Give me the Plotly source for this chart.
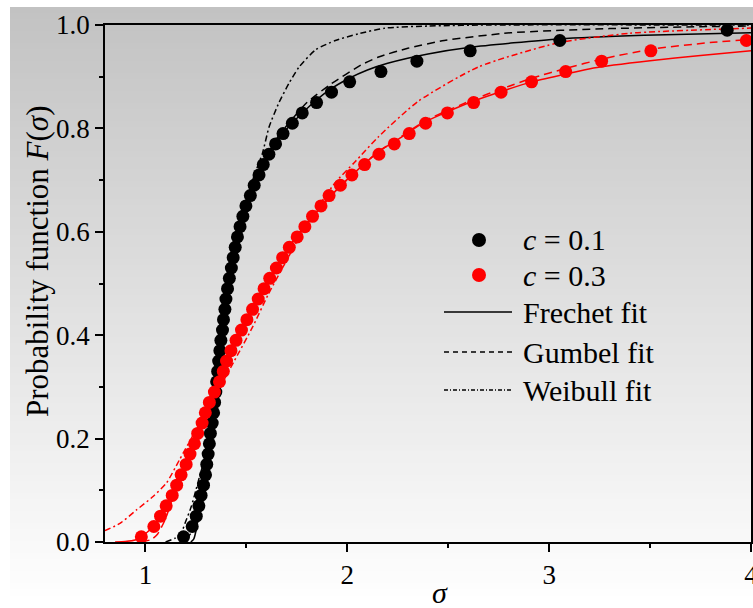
import plotly.graph_objects as go

# ---------------- data ----------------
cdf_levels = [0.01, 0.03, 0.05, 0.07, 0.09, 0.11, 0.13, 0.15, 0.17, 0.19,
              0.21, 0.23, 0.25, 0.27, 0.29, 0.31, 0.33, 0.35, 0.37, 0.39,
              0.41, 0.43, 0.45, 0.47, 0.49, 0.51, 0.53, 0.55, 0.57, 0.59,
              0.61, 0.63, 0.65, 0.67, 0.69, 0.71, 0.73, 0.75, 0.77, 0.79,
              0.81, 0.83, 0.85, 0.87, 0.89, 0.91, 0.93, 0.95, 0.97, 0.99]

c01_sigma = [1.189, 1.232, 1.252, 1.265, 1.276, 1.288, 1.298, 1.304, 1.311, 1.317,
             1.322, 1.331, 1.338, 1.343, 1.349, 1.353, 1.358, 1.363, 1.369, 1.374,
             1.382, 1.387, 1.394, 1.399, 1.407, 1.416, 1.426, 1.435, 1.445, 1.456,
             1.469, 1.483, 1.498, 1.520, 1.539, 1.563, 1.584, 1.612, 1.645, 1.682,
             1.728, 1.777, 1.848, 1.922, 2.012, 2.167, 2.345, 2.609, 3.053, 3.882]

c03_sigma = [0.980, 1.042, 1.075, 1.103, 1.133, 1.155, 1.177, 1.202, 1.221, 1.243,
             1.259, 1.281, 1.297, 1.317, 1.342, 1.367, 1.386, 1.402, 1.424, 1.449,
             1.476, 1.503, 1.531, 1.559, 1.588, 1.616, 1.649, 1.680, 1.713, 1.752,
             1.790, 1.828, 1.870, 1.910, 1.966, 2.023, 2.086, 2.157, 2.233, 2.307,
             2.388, 2.496, 2.626, 2.762, 2.913, 3.082, 3.260, 3.504, 3.977]
c03_F = cdf_levels[:len(c03_sigma)]

# fitted curves (sigma, F)
frechet01_x = [1.225, 1.24, 1.255, 1.27, 1.285, 1.30, 1.32, 1.34, 1.36, 1.38, 1.40, 1.43,
               1.46, 1.50, 1.55, 1.60, 1.65, 1.71, 1.81, 1.91, 2.01, 2.10, 2.20, 2.40,
               2.61, 3.05, 3.47, 4.0]
frechet01_y = [0.0, 0.006, 0.03, 0.07, 0.11, 0.15, 0.21, 0.27, 0.34, 0.40, 0.46, 0.53,
               0.59, 0.65, 0.70, 0.74, 0.775, 0.803, 0.842, 0.874, 0.897, 0.913, 0.926, 0.944,
               0.957, 0.973, 0.980, 0.985]

gumbel01_x = [1.20, 1.23, 1.26, 1.28, 1.30, 1.32, 1.34, 1.36, 1.38, 1.40, 1.43, 1.46,
              1.50, 1.55, 1.60, 1.65, 1.71, 1.80, 1.92, 2.07, 2.155, 2.30, 2.48, 2.81,
              3.30, 3.80, 4.0]
gumbel01_y = [0.003, 0.02, 0.055, 0.10, 0.15, 0.21, 0.27, 0.34, 0.40, 0.46, 0.53, 0.59,
              0.65, 0.70, 0.745, 0.78, 0.81, 0.85, 0.886, 0.923, 0.938, 0.955, 0.970, 0.985,
              0.993, 0.997, 0.998]

weibull01_x = [1.10, 1.15, 1.18, 1.20, 1.227, 1.25, 1.268, 1.30, 1.33, 1.35, 1.37, 1.40,
               1.43, 1.46, 1.50, 1.54, 1.58, 1.613, 1.662, 1.711, 1.76, 1.843, 1.941,
               2.056, 2.188, 2.40, 2.70, 4.0]
weibull01_y = [0.0, 0.008, 0.02, 0.04, 0.068, 0.10, 0.126, 0.17, 0.235, 0.29, 0.35, 0.44,
               0.52, 0.59, 0.66, 0.71, 0.752, 0.803, 0.85, 0.887, 0.918, 0.952, 0.970,
               0.983, 0.994, 0.998, 1.0, 1.0]

frechet03_x = [0.85, 0.90, 0.95, 0.98, 1.04, 1.075, 1.10, 1.13, 1.155, 1.20, 1.26, 1.30,
               1.34, 1.40, 1.45, 1.53, 1.62, 1.71, 1.83, 1.97, 2.155, 2.233, 2.388, 2.626,
               2.913, 3.08, 3.22, 3.50, 3.75, 4.0]
frechet03_y = [0.0, 0.001, 0.004, 0.01, 0.03, 0.05, 0.07, 0.09, 0.11, 0.15, 0.21, 0.25,
               0.29, 0.35, 0.39, 0.45, 0.51, 0.57, 0.63, 0.69, 0.755, 0.774, 0.813, 0.853,
               0.890, 0.905, 0.917, 0.931, 0.941, 0.950]

gumbel03_x = [0.98, 1.03, 1.06, 1.10, 1.13, 1.16, 1.20, 1.26, 1.30, 1.34, 1.40, 1.45,
              1.53, 1.62, 1.71, 1.83, 1.97, 2.155, 2.233, 2.388, 2.626, 2.762, 2.913,
              3.082, 3.26, 3.504, 3.797, 4.0]
gumbel03_y = [0.0, 0.005, 0.015, 0.045, 0.08, 0.11, 0.15, 0.21, 0.25, 0.29, 0.35, 0.39,
              0.45, 0.51, 0.57, 0.63, 0.69, 0.755, 0.775, 0.815, 0.856, 0.876, 0.897,
              0.916, 0.934, 0.953, 0.966, 0.972]

weibull03_x = [0.80, 0.874, 0.956, 1.038, 1.104, 1.169, 1.227, 1.30, 1.37, 1.44, 1.53,
               1.61, 1.70, 1.77, 1.85, 1.94, 2.04, 2.155, 2.35, 2.65, 3.04, 3.40, 4.0]
weibull03_y = [0.022, 0.036, 0.062, 0.088, 0.114, 0.159, 0.200, 0.250, 0.300, 0.350, 0.415,
               0.480, 0.545, 0.595, 0.645, 0.695, 0.736, 0.784, 0.852, 0.919, 0.965, 0.984, 0.994]

x_ticks = [1, 2, 3, 4]
y_ticks = [0.0, 0.2, 0.4, 0.6, 0.8, 1.0]
legend_labels = ["<i>c</i> = 0.1", "<i>c</i> = 0.3", "Frechet fit", "Gumbel fit", "Weibull fit"]

# ---------------- layout geometry (pixels) ----------------
W, H = 753, 608
ML, MR, MT, MB = 105, 2, 25, 66
PW = W - ML - MR
PH = H - MT - MB
FONT = "Liberation Serif, Times New Roman, serif"
RED = "#ff0000"
DASHDOT = "6px,3px,2px,3px"


def px(xp):
    return (xp - ML) / PW


def py(yp):
    return (H - MB - yp) / PH


fig = go.Figure()


def curve(x, y, color, dash):
    fig.add_trace(go.Scatter(x=x, y=y, mode="lines", showlegend=False,
                             line=dict(color=color, width=1.5, dash=dash,
                                       shape="spline", smoothing=0.6),
                             hoverinfo="skip"))


curve(frechet01_x, frechet01_y, "black", "solid")
curve(gumbel01_x, gumbel01_y, "black", "8px,5px")
curve(weibull01_x, weibull01_y, "black", DASHDOT)
curve(frechet03_x, frechet03_y, RED, "solid")
curve(gumbel03_x, gumbel03_y, RED, "8px,5px")
curve(weibull03_x, weibull03_y, RED, DASHDOT)

fig.add_trace(go.Scatter(x=c01_sigma, y=cdf_levels, mode="markers", showlegend=False,
                         marker=dict(color="black", size=13, line=dict(width=0))))
fig.add_trace(go.Scatter(x=c03_sigma, y=c03_F, mode="markers", showlegend=False,
                         marker=dict(color=RED, size=13, line=dict(width=0))))

# ---------------- background gradient ----------------
shapes = []
top, bot, left = 7, 595, 10
n = 98
for i in range(n):
    y0 = top + (bot - top) * i / n
    y1 = top + (bot - top) * (i + 1) / n + 0.6
    g = int(round(194 + (254 - 194) * (i + 0.5) / n))
    shapes.append(dict(type="rect", xref="paper", yref="paper", layer="below",
                       x0=px(left), x1=px(W + 2), y0=py(y1), y1=py(y0),
                       line=dict(width=0), fillcolor=f"rgb({g},{g},{g})"))

# ---------------- manual legend ----------------
row_y = [240, 275, 312, 352, 390]
mx, r = 479, 7
for yy, col in zip(row_y[:2], ["black", RED]):
    shapes.append(dict(type="circle", xref="paper", yref="paper",
                       x0=px(mx - r), x1=px(mx + r), y0=py(yy + r), y1=py(yy - r),
                       fillcolor=col, line=dict(width=0)))
for yy, dash in zip(row_y[2:], ["solid", "5px,4px", "4px,2px,1px,2px"]):
    shapes.append(dict(type="line", xref="paper", yref="paper",
                       x0=px(444), x1=px(512), y0=py(yy), y1=py(yy),
                       line=dict(color="black", width=1.3, dash=dash)))

annotations = []
for yy, lab in zip(row_y, legend_labels):
    annotations.append(dict(xref="paper", yref="paper", x=px(521), y=py(yy),
                            text=lab, showarrow=False, xanchor="left", yanchor="middle",
                            font=dict(family=FONT, size=30, color="black")))

annotations.append(dict(xref="paper", yref="paper", x=px(37), y=py(262),
                        text="Probability function <i>F</i>(<i>σ</i>)", textangle=-90,
                        showarrow=False, xanchor="center", yanchor="middle",
                        font=dict(family=FONT, size=31, color="black")))
annotations.append(dict(xref="paper", yref="paper", x=px(440), y=py(592),
                        text="<i>σ</i>", showarrow=False, xanchor="center", yanchor="middle",
                        font=dict(family=FONT, size=30, color="black")))

axis_common = dict(showgrid=False, zeroline=False, showline=True, linecolor="black",
                   linewidth=1.5, mirror=True, ticks="outside", ticklen=8, tickwidth=1.5,
                   tickcolor="black", ticklabeloverflow="allow", automargin=False,
                   tickfont=dict(family=FONT, size=27, color="black"))

fig.update_layout(
    width=W, height=H,
    margin=dict(l=ML, r=MR, t=MT, b=MB, pad=0, autoexpand=False),
    paper_bgcolor="white", plot_bgcolor="rgba(0,0,0,0)",
    shapes=shapes, annotations=annotations, showlegend=False,
    xaxis=dict(range=[0.8, 4.0], tickvals=x_ticks, ticktext=[str(v) for v in x_ticks],
               minor=dict(dtick=0.5, tick0=0, ticks="outside", ticklen=4,
                          tickwidth=1.5, tickcolor="black"),
               **axis_common),
    yaxis=dict(range=[0, 1.0], tickvals=y_ticks, ticktext=[f"{v:.1f}" for v in y_ticks],
               minor=dict(dtick=0.1, tick0=0, ticks="outside", ticklen=4,
                          tickwidth=1.5, tickcolor="black"),
               **axis_common),
)

fig.write_html("out.html",
               config={"displayModeBar": False},
               post_script="document.body.style.margin='0px';"
                           "document.body.style.padding='0px';"
                           "document.body.style.overflow='hidden';")
